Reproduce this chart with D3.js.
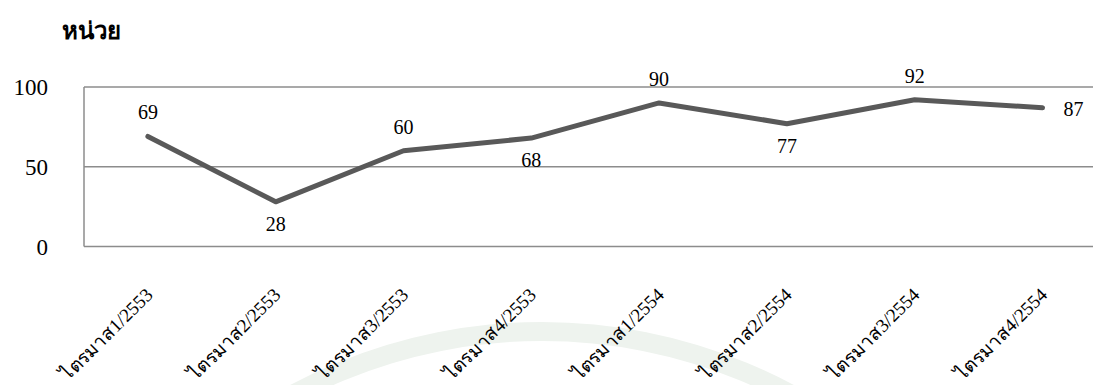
<!DOCTYPE html>
<html>
<head>
<meta charset="utf-8">
<script src="https://cdn.jsdelivr.net/npm/d3@7"></script>
<style>
  html, body { margin: 0; padding: 0; background: #ffffff; }
  svg { display: block; }
  text { font-family: "Liberation Serif", "Times New Roman", serif; fill: #000; }
</style>
</head>
<body>
<svg id="chart" width="1093" height="385"></svg>
<script>
// Quarterly figures
const quarters = ["ไตรมาส1/2553", "ไตรมาส2/2553", "ไตรมาส3/2553", "ไตรมาส4/2553",
                  "ไตรมาส1/2554", "ไตรมาส2/2554", "ไตรมาส3/2554", "ไตรมาส4/2554"];
const values = [69, 28, 60, 68, 90, 77, 92, 87];
const labelSide = ["above", "below", "above", "below", "above", "below", "above", "right"];
const yTicks = [0, 50, 100];
const unitTitle = "หน่วย";

const svg = d3.select("#chart");
const W = 1093, H = 385;

// faint background arc (letterhead watermark)
const arc = d3.arc()
  .innerRadius(516)
  .outerRadius(535)
  .startAngle(-Math.PI / 2)
  .endAngle(Math.PI / 2);
svg.append("path")
  .attr("transform", "translate(542,857)")
  .attr("d", arc())
  .attr("fill", "#eef3ee");

const plotLeft = 84, band = 127.8;
const x = d3.scalePoint()
  .domain(quarters)
  .range([plotLeft, plotLeft + band * quarters.length])
  .padding(0.5);
const y = d3.scaleLinear().domain([0, 100]).range([246.5, 87]);

// horizontal gridlines
svg.append("g")
  .selectAll("line")
  .data(yTicks.filter(d => d > 0))
  .join("line")
  .attr("x1", plotLeft).attr("x2", W)
  .attr("y1", d => y(d)).attr("y2", d => y(d))
  .attr("stroke", "#8c8c8c").attr("stroke-width", 1.5);

// axes lines
svg.append("line")
  .attr("x1", plotLeft).attr("x2", W)
  .attr("y1", y(0)).attr("y2", y(0))
  .attr("stroke", "#8c8c8c").attr("stroke-width", 1.5);
svg.append("line")
  .attr("x1", plotLeft).attr("x2", plotLeft)
  .attr("y1", y(100)).attr("y2", y(0))
  .attr("stroke", "#8c8c8c").attr("stroke-width", 1.5);

// y tick labels
svg.append("g")
  .selectAll("text")
  .data(yTicks)
  .join("text")
  .attr("x", 48)
  .attr("y", d => y(d))
  .attr("dy", "0.35em")
  .attr("text-anchor", "end")
  .attr("font-size", 23)
  .text(d => d);

// unit title
svg.append("text")
  .attr("x", 62).attr("y", 39)
  .attr("font-size", 24)
  .attr("font-weight", "bold")
  .text(unitTitle);

// x category labels, rotated
svg.append("g")
  .selectAll("text")
  .data(quarters)
  .join("text")
  .attr("transform", d => `translate(${x(d) + 6},296) rotate(-45)`)
  .attr("text-anchor", "end")
  .attr("font-size", 19)
  .text(d => d);

// the series line
const pts = quarters.map((q, i) => ({ q, v: values[i], side: labelSide[i] }));
svg.append("path")
  .datum(pts)
  .attr("fill", "none")
  .attr("stroke", "#595959")
  .attr("stroke-width", 5)
  .attr("stroke-linecap", "round")
  .attr("stroke-linejoin", "round")
  .attr("d", d3.line().x(d => x(d.q)).y(d => y(d.v)));

// value labels
svg.append("g")
  .selectAll("text")
  .data(pts)
  .join("text")
  .attr("x", d => d.side === "right" ? x(d.q) + 21 : x(d.q))
  .attr("y", d => d.side === "above" ? y(d.v) - 17 : d.side === "below" ? y(d.v) + 29 : y(d.v) + 8)
  .attr("text-anchor", d => d.side === "right" ? "start" : "middle")
  .attr("font-size", 20)
  .text(d => d.v);
</script>
</body>
</html>
